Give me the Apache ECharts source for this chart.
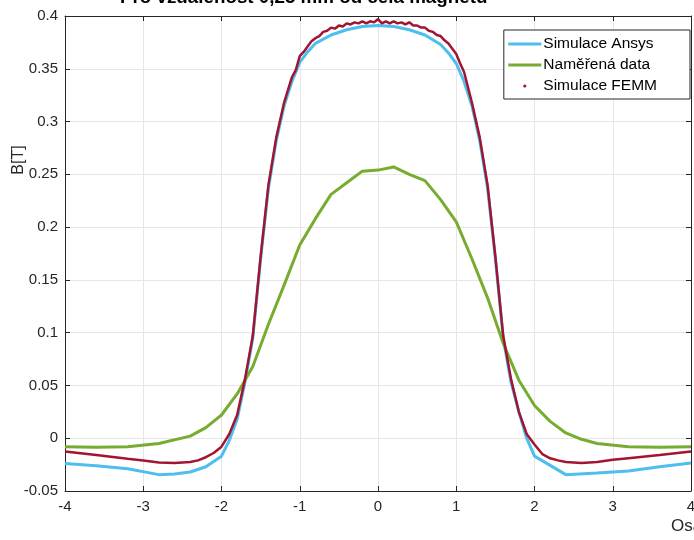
<!DOCTYPE html>
<html>
<head>
<meta charset="utf-8">
<script src="https://cdn.jsdelivr.net/npm/echarts@6/dist/echarts.min.js"></script>
<style>
html,body{margin:0;padding:0;background:#fff;overflow:hidden;}
#c{width:694px;height:540px;}
</style>
</head>
<body>
<div id="c"></div>
<script>
const titleText = 'Pro vzdálenost 0,25 mm od čela magnetu';
const xLabel = 'Osa x [mm]';
const yLabel = 'B[T]';
const seriesNames = ['Simulace Ansys', 'Naměřená data', 'Simulace FEMM'];

const ansysX = [-4.0,-3.6,-3.2,-2.8,-2.6,-2.4,-2.2,-2.0,-1.9,-1.8,-1.7,-1.6,-1.5,-1.4,-1.3,-1.2,-1.1,-1.0,-0.9,-0.8,-0.6,-0.4,-0.2,0,0.2,0.4,0.6,0.8,0.9,1.0,1.1,1.2,1.3,1.4,1.5,1.6,1.7,1.8,1.9,2.0,2.4,2.8,3.2,3.6,4.0];
const ansysY = [-0.024,-0.026,-0.029,-0.0345,-0.034,-0.032,-0.027,-0.017,-0.002,0.018,0.053,0.095,0.17,0.237,0.282,0.315,0.338,0.356,0.366,0.374,0.382,0.387,0.390,0.391,0.390,0.387,0.382,0.373,0.365,0.355,0.338,0.315,0.282,0.237,0.17,0.095,0.053,0.025,0.0,-0.017,-0.0345,-0.033,-0.031,-0.027,-0.0234];

const measX = [-4.0,-3.6,-3.2,-2.8,-2.4,-2.2,-2.0,-1.8,-1.6,-1.4,-1.2,-1.0,-0.8,-0.6,-0.4,-0.2,0,0.2,0.4,0.6,0.8,1.0,1.2,1.4,1.6,1.8,2.0,2.2,2.4,2.6,2.8,3.2,3.6,4.0];
const measY = [-0.008,-0.0085,-0.008,-0.005,0.002,0.01,0.022,0.042,0.068,0.108,0.145,0.183,0.208,0.231,0.242,0.253,0.254,0.257,0.250,0.244,0.226,0.205,0.17,0.133,0.09,0.055,0.031,0.016,0.005,-0.001,-0.005,-0.008,-0.0085,-0.008];

const femmX = [-4.0,-3.6,-3.2,-3.0,-2.8,-2.6,-2.4,-2.3,-2.2,-2.1,-2.0,-1.9,-1.8,-1.7,-1.6,-1.5,-1.4,-1.3,-1.2,-1.1,-1.05,-1.0,-0.95,-0.9,-0.85,-0.8,-0.75,-0.7,-0.65,-0.6,-0.55,-0.5,-0.45,-0.4,-0.35,-0.3,-0.25,-0.2,-0.15,-0.1,-0.05,0,0.05,0.1,0.15,0.2,0.25,0.3,0.35,0.4,0.45,0.5,0.55,0.6,0.65,0.7,0.75,0.8,0.85,0.9,0.95,1.0,1.05,1.1,1.2,1.3,1.4,1.5,1.6,1.7,1.8,1.9,2.0,2.1,2.2,2.3,2.4,2.6,2.8,3.0,3.2,3.6,4.0];
const femmY = [-0.0125,-0.016,-0.0195,-0.021,-0.023,-0.0235,-0.0225,-0.021,-0.018,-0.014,-0.008,0.004,0.022,0.056,0.097,0.172,0.24,0.285,0.318,0.342,0.349,0.362,0.366,0.371,0.376,0.379,0.381,0.385,0.386,0.389,0.388,0.391,0.390,0.393,0.392,0.394,0.393,0.395,0.393,0.395,0.394,0.397,0.393,0.395,0.393,0.395,0.393,0.394,0.392,0.394,0.391,0.391,0.389,0.389,0.386,0.385,0.382,0.381,0.377,0.374,0.369,0.364,0.355,0.347,0.318,0.285,0.24,0.172,0.097,0.056,0.025,0.004,-0.006,-0.015,-0.019,-0.021,-0.0225,-0.0235,-0.0225,-0.0205,-0.019,-0.016,-0.0125];

const xTicks = [-4,-3,-2,-1,0,1,2,3,4];
const yTicks = [-0.05,0,0.05,0.1,0.15,0.2,0.25,0.3,0.35,0.4];

function pairs(xs, ys){ return xs.map((x,i)=>[x, ys[i]]); }

const FONT = '"Liberation Sans", Arial, Helvetica, sans-serif';
const AX = '#262626';
const chart = echarts.init(document.getElementById('c'), null, {renderer:'canvas', width:694, height:540});

const baseX = {
  type:'value', min:xTicks[0], max:xTicks[xTicks.length-1], interval:1,
  axisLine:{show:true, onZero:false, lineStyle:{color:AX, width:1}},
  axisTick:{show:true, inside:true, length:5, lineStyle:{color:AX}},
  splitLine:{show:false}
};
const baseY = {
  type:'value', min:yTicks[0], max:yTicks[yTicks.length-1], interval:0.05,
  axisLine:{show:true, onZero:false, lineStyle:{color:AX, width:1}},
  axisTick:{show:true, inside:true, length:5, lineStyle:{color:AX}},
  splitLine:{show:false}
};

chart.setOption({
  animation:false,
  backgroundColor:'#fff',
  grid:{left:65, width:626, top:16, height:475, containLabel:false, outerBoundsMode:'none'},
  xAxis:[
    Object.assign({}, baseX, {position:'bottom',
      axisLabel:{show:true, color:AX, fontSize:15, fontFamily:FONT, margin:8},
      splitLine:{show:true, lineStyle:{color:'#e6e6e6', width:1}}}),
    Object.assign({}, baseX, {position:'top', axisLabel:{show:false}})
  ],
  yAxis:[
    Object.assign({}, baseY, {position:'left',
      axisLabel:{show:true, color:AX, fontSize:15, fontFamily:FONT, margin:7,
        formatter:v=>String(parseFloat(v.toFixed(3)))},
      splitLine:{show:true, lineStyle:{color:'#e6e6e6', width:1}}}),
    Object.assign({}, baseY, {position:'right', axisLabel:{show:false}})
  ],
  legend:{
    orient:'vertical', right:4, top:30,
    backgroundColor:'#fff', borderColor:AX, borderWidth:1, borderRadius:0,
    padding:[6,33,5,3], itemGap:5, itemWidth:33, itemHeight:4,
    textStyle:{fontSize:15.5, fontFamily:FONT, color:'#000', padding:[0,0,0,-3]},
    data:[
      {name:seriesNames[0], lineStyle:{width:3}, itemStyle:{opacity:0}},
      {name:seriesNames[1], lineStyle:{width:3}, itemStyle:{opacity:0}},
      {name:seriesNames[2], lineStyle:{color:'rgba(0,0,0,0)', width:0}}
    ]
  },
  graphic:[
    {type:'text', left:120, top:-12, style:{text:titleText, font:'bold 18.8px '+FONT, fill:'#000'}},
    {type:'text', x:19, y:160, rotation:Math.PI/2, style:{text:yLabel, font:'16px '+FONT, fill:AX, textAlign:'center', textVerticalAlign:'middle'}},
    {type:'text', left:671, top:518, style:{text:xLabel, font:'17px '+FONT, fill:AX}}
  ],
  series:[
    {name:seriesNames[0], type:'line', data:pairs(ansysX, ansysY), showSymbol:false, symbol:'none',
      lineStyle:{color:'#4DBEEE', width:3}, itemStyle:{color:'#4DBEEE'}, z:2},
    {name:seriesNames[1], type:'line', data:pairs(measX, measY), showSymbol:false, symbol:'none',
      lineStyle:{color:'#77AC30', width:3}, itemStyle:{color:'#77AC30'}, z:3},
    {name:seriesNames[2], type:'line', data:pairs(femmX, femmY), showSymbol:false, symbol:'circle', symbolSize:2,
      lineStyle:{color:'#A2142F', width:2.5}, itemStyle:{color:'#A2142F'}, z:4}
  ]
});
</script>
</body>
</html>
